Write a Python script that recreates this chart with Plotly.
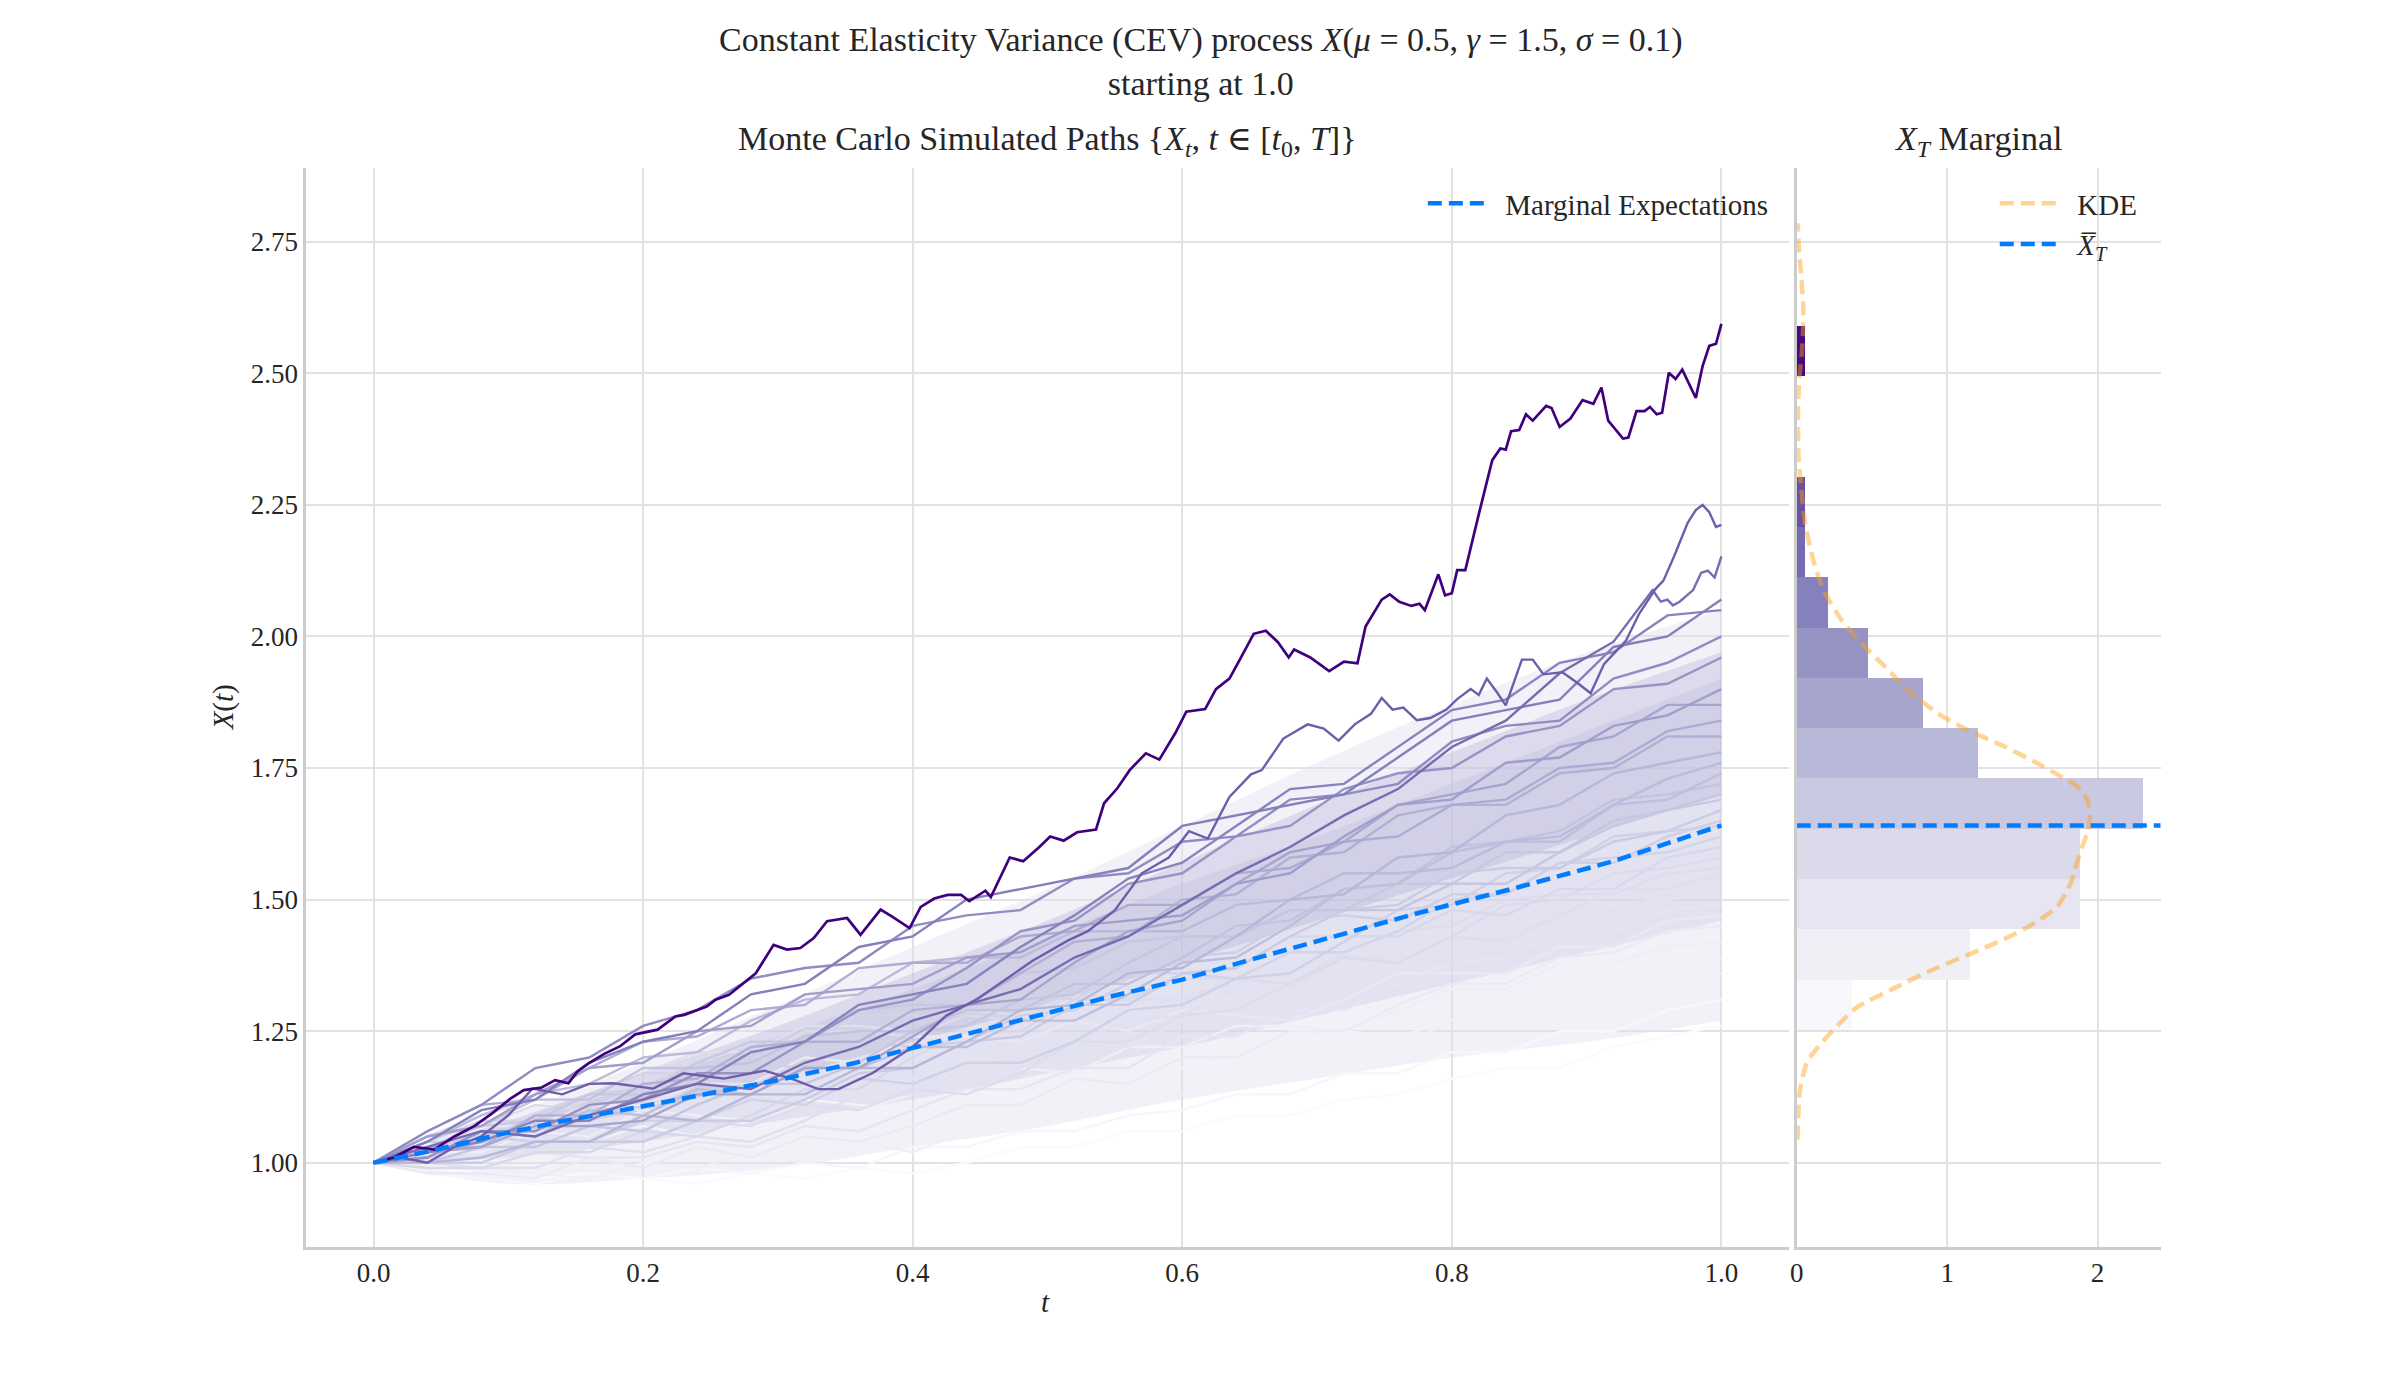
import plotly.graph_objects as go

# ---------------------------------------------------------------- data
# time grid of the sparse (hand-read) background paths
t_grid = [0.00, 0.04, 0.08, 0.12, 0.16, 0.20, 0.24, 0.28, 0.32, 0.36, 0.40, 0.44, 0.48,
          0.52, 0.56, 0.60, 0.64, 0.68, 0.72, 0.76, 0.80, 0.84, 0.88, 0.92, 0.96, 1.00]

bundle_paths = [
    [1.00, 1.04, 1.10, 1.12, 1.19, 1.23, 1.25, 1.32, 1.34, 1.41, 1.43, 1.50, 1.52, 1.54, 1.56, 1.64, 1.66, 1.68, 1.70, 1.77, 1.84, 1.86, 1.88, 1.98, 2.00, 2.07],
    [1.00, 1.02, 1.04, 1.08, 1.08, 1.13, 1.15, 1.21, 1.23, 1.30, 1.32, 1.34, 1.41, 1.47, 1.54, 1.57, 1.64, 1.71, 1.72, 1.79, 1.86, 1.88, 1.95, 1.97, 2.04, 2.05],
    [1.00, 1.06, 1.11, 1.18, 1.20, 1.26, 1.29, 1.35, 1.37, 1.38, 1.45, 1.47, 1.48, 1.54, 1.55, 1.61, 1.62, 1.69, 1.70, 1.72, 1.80, 1.83, 1.84, 1.92, 1.95, 2.00],
    [1.00, 1.01, 1.06, 1.06, 1.11, 1.12, 1.17, 1.17, 1.23, 1.29, 1.31, 1.37, 1.44, 1.46, 1.53, 1.55, 1.62, 1.64, 1.71, 1.74, 1.75, 1.81, 1.83, 1.90, 1.91, 1.96],
    [1.00, 1.05, 1.07, 1.13, 1.18, 1.19, 1.25, 1.26, 1.32, 1.33, 1.34, 1.39, 1.40, 1.45, 1.46, 1.47, 1.53, 1.55, 1.62, 1.68, 1.69, 1.76, 1.77, 1.83, 1.85, 1.90],
    [1.00, 1.02, 1.03, 1.07, 1.07, 1.08, 1.13, 1.13, 1.18, 1.18, 1.24, 1.30, 1.31, 1.38, 1.44, 1.46, 1.53, 1.59, 1.61, 1.68, 1.70, 1.72, 1.79, 1.81, 1.87, 1.87],
    [1.00, 1.06, 1.11, 1.12, 1.18, 1.23, 1.24, 1.29, 1.30, 1.37, 1.38, 1.38, 1.43, 1.44, 1.49, 1.49, 1.55, 1.56, 1.61, 1.62, 1.68, 1.69, 1.75, 1.76, 1.82, 1.84],
    [1.00, 1.03, 1.03, 1.09, 1.09, 1.15, 1.16, 1.22, 1.23, 1.23, 1.29, 1.30, 1.36, 1.42, 1.43, 1.50, 1.51, 1.58, 1.59, 1.66, 1.68, 1.68, 1.74, 1.75, 1.81, 1.81],
    [1.00, 1.00, 1.01, 1.04, 1.04, 1.09, 1.08, 1.13, 1.13, 1.18, 1.18, 1.23, 1.29, 1.30, 1.36, 1.37, 1.43, 1.50, 1.51, 1.58, 1.59, 1.66, 1.68, 1.74, 1.76, 1.78],
    [1.00, 1.04, 1.09, 1.13, 1.15, 1.20, 1.21, 1.27, 1.31, 1.32, 1.38, 1.39, 1.39, 1.44, 1.44, 1.44, 1.49, 1.50, 1.55, 1.55, 1.56, 1.61, 1.62, 1.68, 1.73, 1.76],
    [1.00, 1.01, 1.06, 1.05, 1.10, 1.09, 1.14, 1.13, 1.18, 1.18, 1.22, 1.22, 1.27, 1.27, 1.32, 1.38, 1.39, 1.45, 1.52, 1.53, 1.59, 1.61, 1.61, 1.68, 1.69, 1.74],
    [1.00, 1.05, 1.07, 1.12, 1.12, 1.18, 1.18, 1.19, 1.24, 1.25, 1.25, 1.29, 1.29, 1.34, 1.34, 1.39, 1.45, 1.46, 1.52, 1.53, 1.60, 1.61, 1.63, 1.69, 1.70, 1.72],
    [1.00, 1.00, 1.03, 1.03, 1.07, 1.06, 1.11, 1.15, 1.15, 1.19, 1.25, 1.26, 1.31, 1.32, 1.38, 1.43, 1.43, 1.48, 1.48, 1.48, 1.53, 1.53, 1.59, 1.65, 1.67, 1.70],
    [1.00, 1.03, 1.07, 1.08, 1.13, 1.13, 1.19, 1.23, 1.23, 1.29, 1.30, 1.30, 1.36, 1.37, 1.42, 1.43, 1.43, 1.48, 1.48, 1.53, 1.53, 1.59, 1.59, 1.64, 1.67, 1.69],
    [1.00, 1.00, 1.00, 1.04, 1.04, 1.04, 1.08, 1.08, 1.12, 1.17, 1.18, 1.23, 1.24, 1.30, 1.30, 1.36, 1.37, 1.43, 1.48, 1.49, 1.55, 1.56, 1.56, 1.61, 1.63, 1.67],
    [1.00, 1.04, 1.04, 1.09, 1.13, 1.14, 1.19, 1.19, 1.18, 1.23, 1.22, 1.23, 1.28, 1.29, 1.34, 1.39, 1.40, 1.46, 1.47, 1.46, 1.51, 1.51, 1.57, 1.57, 1.62, 1.65],
    [1.00, 1.01, 1.05, 1.04, 1.04, 1.08, 1.08, 1.12, 1.11, 1.16, 1.15, 1.19, 1.19, 1.23, 1.29, 1.30, 1.35, 1.36, 1.42, 1.48, 1.49, 1.55, 1.56, 1.62, 1.63, 1.64],
    [1.00, 1.04, 1.08, 1.08, 1.13, 1.17, 1.17, 1.22, 1.23, 1.28, 1.28, 1.28, 1.32, 1.31, 1.36, 1.36, 1.35, 1.40, 1.40, 1.44, 1.50, 1.51, 1.57, 1.58, 1.59, 1.62],
    [1.00, 0.99, 0.99, 1.02, 1.02, 1.06, 1.05, 1.09, 1.14, 1.14, 1.20, 1.25, 1.25, 1.31, 1.31, 1.36, 1.37, 1.43, 1.43, 1.43, 1.48, 1.47, 1.52, 1.52, 1.58, 1.60],
    [1.00, 1.03, 1.07, 1.11, 1.10, 1.15, 1.19, 1.19, 1.25, 1.25, 1.24, 1.28, 1.27, 1.32, 1.31, 1.35, 1.35, 1.34, 1.39, 1.38, 1.43, 1.49, 1.50, 1.55, 1.56, 1.58],
    [1.00, 1.01, 1.05, 1.04, 1.04, 1.04, 1.08, 1.07, 1.11, 1.10, 1.14, 1.13, 1.17, 1.23, 1.23, 1.28, 1.29, 1.34, 1.40, 1.44, 1.45, 1.50, 1.51, 1.51, 1.55, 1.56],
    [1.00, 1.05, 1.09, 1.12, 1.12, 1.17, 1.21, 1.21, 1.26, 1.26, 1.25, 1.29, 1.28, 1.32, 1.31, 1.31, 1.35, 1.34, 1.39, 1.38, 1.43, 1.42, 1.47, 1.52, 1.52, 1.55],
    [1.00, 1.00, 0.99, 0.99, 1.03, 1.02, 1.05, 1.04, 1.08, 1.13, 1.13, 1.18, 1.18, 1.23, 1.27, 1.28, 1.33, 1.33, 1.39, 1.39, 1.38, 1.43, 1.47, 1.48, 1.51, 1.53],
    [1.00, 1.03, 1.06, 1.06, 1.11, 1.10, 1.15, 1.15, 1.14, 1.18, 1.16, 1.20, 1.19, 1.23, 1.22, 1.27, 1.32, 1.32, 1.32, 1.37, 1.38, 1.43, 1.44, 1.49, 1.50, 1.51],
    [1.00, 1.00, 0.99, 1.02, 1.01, 1.01, 1.04, 1.03, 1.07, 1.06, 1.10, 1.14, 1.14, 1.18, 1.18, 1.24, 1.24, 1.29, 1.29, 1.34, 1.38, 1.39, 1.44, 1.44, 1.48, 1.49],
    [1.00, 1.04, 1.07, 1.07, 1.11, 1.11, 1.15, 1.15, 1.20, 1.19, 1.24, 1.24, 1.23, 1.27, 1.25, 1.29, 1.28, 1.27, 1.31, 1.36, 1.36, 1.36, 1.41, 1.41, 1.46, 1.47],
    [1.00, 0.98, 0.98, 0.97, 1.01, 0.99, 1.03, 1.01, 1.05, 1.04, 1.07, 1.11, 1.11, 1.16, 1.15, 1.20, 1.20, 1.25, 1.25, 1.30, 1.34, 1.34, 1.39, 1.40, 1.44, 1.45],
    [1.00, 1.02, 1.02, 1.06, 1.05, 1.10, 1.09, 1.08, 1.11, 1.10, 1.13, 1.18, 1.18, 1.17, 1.22, 1.22, 1.26, 1.26, 1.25, 1.29, 1.33, 1.33, 1.38, 1.38, 1.41, 1.42],
    [1.00, 0.99, 0.99, 0.98, 0.97, 1.00, 0.99, 1.02, 1.00, 1.04, 1.02, 1.06, 1.09, 1.09, 1.13, 1.13, 1.18, 1.17, 1.22, 1.22, 1.27, 1.30, 1.30, 1.35, 1.36, 1.39],
    [1.00, 1.02, 1.05, 1.04, 1.04, 1.07, 1.05, 1.08, 1.12, 1.11, 1.10, 1.14, 1.12, 1.16, 1.15, 1.18, 1.22, 1.22, 1.25, 1.24, 1.27, 1.27, 1.32, 1.32, 1.35, 1.36],
    [1.00, 0.98, 0.97, 0.96, 0.98, 0.97, 0.99, 0.98, 1.00, 0.99, 1.03, 1.03, 1.06, 1.06, 1.09, 1.10, 1.13, 1.13, 1.17, 1.17, 1.21, 1.21, 1.25, 1.25, 1.29, 1.31],
    [1.00, 0.99, 0.98, 0.97, 0.98, 0.97, 0.96, 0.98, 0.97, 0.99, 0.98, 1.00, 1.03, 1.03, 1.06, 1.06, 1.09, 1.09, 1.12, 1.13, 1.16, 1.18, 1.18, 1.22, 1.24, 1.26],
]

# the three outlying paths, read in more detail
top_t = [0, 0.015, 0.03, 0.045, 0.06, 0.075, 0.088, 0.1016, 0.1115, 0.1248, 0.1347, 0.1446, 0.1512,
         0.1595, 0.1711, 0.1827, 0.1942, 0.2042, 0.2108, 0.224, 0.2306, 0.2472, 0.2538, 0.2637, 0.2703,
         0.2836, 0.2968, 0.3067, 0.3167, 0.3266, 0.3365, 0.3514, 0.3613, 0.3762, 0.3845, 0.3977, 0.406,
         0.416, 0.426, 0.436, 0.442, 0.454, 0.458, 0.472, 0.482, 0.494, 0.502, 0.512, 0.522, 0.536, 0.542,
         0.552, 0.561, 0.573, 0.583, 0.595, 0.603, 0.617, 0.625, 0.635, 0.641, 0.653, 0.662, 0.671, 0.679,
         0.683, 0.695, 0.703, 0.709, 0.720, 0.730, 0.736, 0.748, 0.754, 0.761, 0.770, 0.776, 0.780, 0.790,
         0.795, 0.800, 0.804, 0.810, 0.820, 0.830, 0.836, 0.840, 0.844, 0.850, 0.855, 0.860, 0.870, 0.874,
         0.880, 0.888, 0.897, 0.905, 0.911, 0.916, 0.927, 0.931, 0.937, 0.943, 0.947, 0.952, 0.956, 0.961,
         0.966, 0.971, 0.981, 0.986, 0.991, 0.996, 1.0]
top_x = [1.0, 1.01, 1.03, 1.025, 1.05, 1.07, 1.094, 1.122, 1.138, 1.143, 1.157, 1.151, 1.173,
         1.189, 1.207, 1.221, 1.244, 1.249, 1.253, 1.278, 1.281, 1.297, 1.31, 1.319, 1.332,
         1.36, 1.414, 1.405, 1.408, 1.427, 1.459, 1.465, 1.433, 1.481, 1.468, 1.446, 1.486,
         1.502, 1.509, 1.509, 1.497, 1.517, 1.505, 1.58, 1.573, 1.60, 1.62, 1.612, 1.628, 1.633, 1.683,
         1.712, 1.746, 1.778, 1.766, 1.817, 1.857, 1.862, 1.90, 1.92, 1.948, 2.005, 2.011, 1.989, 1.96,
         1.975, 1.96, 1.946, 1.934, 1.952, 1.949, 2.019, 2.07, 2.08, 2.066, 2.058, 2.062, 2.05, 2.118,
         2.078, 2.082, 2.126, 2.126, 2.232, 2.335, 2.357, 2.355, 2.39, 2.392, 2.422, 2.41, 2.438, 2.434,
         2.398, 2.414, 2.449, 2.442, 2.473, 2.41, 2.376, 2.378, 2.428, 2.428, 2.436, 2.422, 2.425, 2.501,
         2.489, 2.507, 2.453, 2.513, 2.552, 2.556, 2.594]

second_t = [0, 0.02, 0.04, 0.06, 0.08, 0.10, 0.118, 0.14, 0.16, 0.178, 0.2075, 0.23, 0.26, 0.29, 0.31,
            0.33, 0.345, 0.37, 0.40, 0.425, 0.448, 0.47, 0.489, 0.515, 0.53, 0.55, 0.57, 0.59, 0.605,
            0.619, 0.635, 0.651, 0.659, 0.675, 0.693, 0.705, 0.716, 0.728, 0.740, 0.748, 0.756, 0.764,
            0.774, 0.784, 0.796, 0.804, 0.814, 0.820, 0.826, 0.834, 0.840, 0.852, 0.860, 0.868, 0.882,
            0.893, 0.903, 0.913, 0.929, 0.939, 0.951, 0.957, 0.965, 0.975, 0.981, 0.986, 0.991, 0.996, 1.0]
second_x = [1.0, 1.01, 1.0, 1.03, 1.05, 1.09, 1.141, 1.13, 1.15, 1.151, 1.141, 1.17, 1.16, 1.175, 1.16,
            1.14, 1.14, 1.17, 1.22, 1.28, 1.311, 1.35, 1.384, 1.422, 1.44, 1.48, 1.55, 1.58, 1.63,
            1.616, 1.695, 1.738, 1.746, 1.806, 1.833, 1.825, 1.802, 1.833, 1.853, 1.883, 1.861, 1.865,
            1.841, 1.845, 1.861, 1.881, 1.90, 1.889, 1.92, 1.892, 1.869, 1.956, 1.956, 1.928, 1.932,
            1.912, 1.892, 1.948, 1.991, 2.043, 2.09, 2.106, 2.153, 2.216, 2.24, 2.25, 2.236, 2.208, 2.212]

third_t = [0.00, 0.04, 0.08, 0.12, 0.16, 0.20, 0.24, 0.28, 0.32, 0.36, 0.40, 0.44, 0.48, 0.52, 0.56,
           0.60, 0.64, 0.68, 0.72, 0.76, 0.80, 0.84, 0.88, 0.92, 0.949, 0.955, 0.96, 0.964, 0.969,
           0.979, 0.985, 0.99, 0.995, 1.0]
third_x = [1.00, 1.03, 1.06, 1.05, 1.09, 1.12, 1.15, 1.14, 1.19, 1.22, 1.27, 1.30, 1.33, 1.39, 1.43,
           1.49, 1.55, 1.60, 1.66, 1.71, 1.79, 1.84, 1.93, 1.99, 2.088, 2.066, 2.07, 2.059, 2.066,
           2.088, 2.121, 2.125, 2.112, 2.152]

# envelope of the dense, faint bulk of the simulated paths
band_t = [0.0, 0.1, 0.2, 0.3, 0.4, 0.5, 0.6, 0.7, 0.8, 0.9, 1.0]
outer_lo = [1.0, 0.96, 0.97, 0.99, 1.03, 1.07, 1.12, 1.16, 1.20, 1.23, 1.27]
outer_hi = [1.0, 1.09, 1.19, 1.30, 1.41, 1.52, 1.64, 1.76, 1.87, 1.97, 2.05]
inner_lo = [1.0, 1.01, 1.04, 1.08, 1.12, 1.17, 1.22, 1.28, 1.34, 1.40, 1.46]
inner_hi = [1.0, 1.07, 1.15, 1.24, 1.33, 1.43, 1.53, 1.62, 1.72, 1.82, 1.92]
core_t = [0.0, 0.1, 0.2, 0.3, 0.4, 0.5, 0.6, 0.7, 0.8, 0.9, 1.0]
core_lo = [1.0, 1.05, 1.10, 1.16, 1.23, 1.30, 1.38, 1.46, 1.54, 1.62, 1.70]
core_hi = [1.0, 1.08, 1.17, 1.26, 1.36, 1.46, 1.57, 1.68, 1.78, 1.88, 1.97]

# marginal expectations (sample mean over paths)
mean_t = [0, 0.045, 0.092, 0.138, 0.191, 0.244, 0.300, 0.356, 0.40, 0.449, 0.495, 0.547, 0.60,
          0.647, 0.72, 0.77, 0.85, 0.92, 1.0]
mean_x = [1.0, 1.024, 1.053, 1.078, 1.103, 1.13, 1.157, 1.189, 1.218, 1.249, 1.281, 1.316, 1.348,
          1.383, 1.436, 1.471, 1.524, 1.573, 1.641]

# histogram of X_T (200 paths)
bin_edges = [1.2526, 1.3482, 1.4437, 1.5393, 1.6348, 1.7304, 1.8259, 1.9215, 2.0170, 2.1126,
             2.2081, 2.3037, 2.3992, 2.4948, 2.5903]
bin_counts = [7, 22, 36, 36, 44, 23, 16, 9, 4, 1, 1, 0, 0, 1]
n_paths = 200
xT_mean = 1.641

# KDE of X_T
kde_x = [1.044, 1.10, 1.139, 1.17, 1.189, 1.205, 1.221, 1.249, 1.275, 1.297, 1.329, 1.363, 1.395,
         1.425, 1.455, 1.487, 1.531, 1.582, 1.601, 1.63, 1.658, 1.69, 1.715, 1.734, 1.759, 1.794,
         1.822, 1.854, 1.898, 1.943, 1.987, 2.031, 2.088, 2.145, 2.215, 2.272, 2.342, 2.40, 2.45,
         2.50, 2.544, 2.582, 2.623, 2.683, 2.734, 2.785]
kde_d = [0.005, 0.012, 0.022, 0.045, 0.066, 0.10, 0.144, 0.232, 0.32, 0.408, 0.629, 0.872, 1.137,
         1.38, 1.578, 1.733, 1.821, 1.876, 1.899, 1.935, 1.949, 1.931, 1.865, 1.755, 1.60, 1.358,
         1.137, 0.938, 0.74, 0.585, 0.43, 0.298, 0.177, 0.11, 0.055, 0.033, 0.012, 0.008, 0.01,
         0.02, 0.035, 0.042, 0.044, 0.03, 0.015, 0.006]

# ---------------------------------------------------------------- styling helpers
PURPLES = ["#fcfbfd", "#efedf5", "#dadaeb", "#bcbddc", "#9e9ac8",
           "#807dba", "#6a51a3", "#54278f", "#3f007d"]


def _rgb(h):
    return tuple(int(h[i:i + 2], 16) for i in (1, 3, 5))


def purples(u):
    u = min(max(u, 0.0), 1.0)
    pos = u * (len(PURPLES) - 1)
    i = min(int(pos), len(PURPLES) - 2)
    f = pos - i
    a, b = _rgb(PURPLES[i]), _rgb(PURPLES[i + 1])
    return "rgb(%d,%d,%d)" % tuple(round(a[k] + (b[k] - a[k]) * f) for k in range(3))


v_min, v_max = bin_edges[0], bin_edges[-1]


def norm(v):
    return (v - v_min) / (v_max - v_min)


W, H = 2400, 1400
FONT = "Liberation Serif, DejaVu Serif, serif"
TXT = "#262626"
GRID = "#e2e2e2"
SPINE = "#cccccc"
BLUE = "rgb(0,125,255)"
KDE_COL = "rgba(255,160,20,0.45)"
GAP = "\u00a0\u00a0"

fig = go.Figure()


def band(tt, lo, hi, color):
    fig.add_trace(go.Scatter(x=tt, y=lo, mode="lines", line=dict(width=0, shape="spline"),
                             showlegend=False, hoverinfo="skip", xaxis="x", yaxis="y"))
    fig.add_trace(go.Scatter(x=tt, y=hi, mode="lines", line=dict(width=0, shape="spline"),
                             fill="tonexty", fillcolor=color,
                             showlegend=False, hoverinfo="skip", xaxis="x", yaxis="y"))


# bulk envelope (faint lavender cloud)
band(band_t, outer_lo, outer_hi, "rgba(226,225,240,0.45)")
band(band_t, inner_lo, inner_hi, "rgba(205,204,229,0.40)")
band(core_t, core_lo, core_hi, "rgba(170,166,210,0.30)")

# background paths, lightest first
paths = [(t_grid, p) for p in bundle_paths]
paths += [(third_t, third_x), (second_t, second_x), (top_t, top_x)]
paths.sort(key=lambda tp: tp[1][-1])
for tt, xx in paths:
    lw = 2.7 if xx is top_x else 2.4
    fig.add_trace(go.Scatter(x=tt, y=xx, mode="lines",
                             line=dict(color=purples(norm(xx[-1])), width=lw),
                             showlegend=False, hoverinfo="skip", xaxis="x", yaxis="y"))

# marginal expectations
fig.add_trace(go.Scatter(x=mean_t, y=mean_x, mode="lines", name=GAP + "Marginal Expectations",
                         line=dict(color=BLUE, width=4.5, dash="14px,7px"),
                         legend="legend", xaxis="x", yaxis="y"))

# histogram of X_T (density)
bin_w = [bin_edges[i + 1] - bin_edges[i] for i in range(len(bin_counts))]
centers = [(bin_edges[i] + bin_edges[i + 1]) / 2 for i in range(len(bin_counts))]
dens = [c / (n_paths * w) for c, w in zip(bin_counts, bin_w)]
fig.add_trace(go.Bar(y=centers, x=dens, width=bin_w, orientation="h",
                     marker=dict(color=[purples(norm(c)) for c in centers], line=dict(width=0)),
                     showlegend=False, hoverinfo="skip", xaxis="x2", yaxis="y2"))

# KDE
fig.add_trace(go.Scatter(x=kde_d, y=kde_x, mode="lines", name=GAP + "KDE",
                         line=dict(color=KDE_COL, width=4.5, dash="14px,7px", shape="spline",
                                   smoothing=0.6),
                         legend="legend2", xaxis="x2", yaxis="y2"))

# mean of X_T
fig.add_trace(go.Scatter(x=[0, 2.42], y=[xT_mean, xT_mean], mode="lines",
                         name=GAP + "<i>X\u0305</i><sub><i>T</i></sub>",
                         line=dict(color=BLUE, width=4.5, dash="14px,7px"),
                         legend="legend2", xaxis="x2", yaxis="y2"))

# ---------------------------------------------------------------- layout
x1 = [300 / W, 1787 / W]
x2 = [1795 / W, 2160 / W]
yd = [1 - 1247 / H, 1 - 168 / H]

axis_common = dict(showgrid=True, gridcolor=GRID, gridwidth=1.5, zeroline=False,
                   showline=True, linecolor=SPINE, linewidth=2.5, ticks="",
                   tickfont=dict(family=FONT, size=27, color=TXT))

xticks = [0.0, 0.2, 0.4, 0.6, 0.8, 1.0]
yticks = [1.00, 1.25, 1.50, 1.75, 2.00, 2.25, 2.50, 2.75]

legend_font = dict(family=FONT, size=29, color=TXT)

fig.update_layout(
    width=W, height=H,
    margin=dict(l=0, r=0, t=0, b=0),
    paper_bgcolor="white", plot_bgcolor="white",
    font=dict(family=FONT, color=TXT),
    xaxis=dict(domain=x1, range=[-0.05, 1.05], anchor="y",
               tickvals=xticks, ticktext=["%.1f" % v for v in xticks], **axis_common),
    yaxis=dict(domain=yd, range=[0.84, 2.89], anchor="x",
               tickvals=yticks, ticktext=["%.2f" % v for v in yticks], **axis_common),
    xaxis2=dict(domain=x2, range=[0, 2.42], anchor="y2",
                tickvals=[0, 1, 2], ticktext=["0", "1", "2"], **axis_common),
    yaxis2=dict(domain=yd, matches="y", anchor="x2", showticklabels=False,
                tickvals=yticks, **{k: v for k, v in axis_common.items() if k != "tickfont"}),
    bargap=0,
    legend=dict(x=1772 / W, y=1 - 178 / H, xanchor="right", yanchor="top", itemwidth=58,
                bgcolor="rgba(0,0,0,0)", font=legend_font),
    legend2=dict(x=2142 / W, y=1 - 178 / H, xanchor="right", yanchor="top", itemwidth=58,
                 bgcolor="rgba(0,0,0,0)", font=legend_font, tracegroupgap=0),
    annotations=[
        dict(text="Constant Elasticity Variance (CEV) process <i>X</i>(<i>\u03bc</i> = 0.5, "
                  "<i>\u03b3</i> = 1.5, <i>\u03c3</i> = 0.1)<br>starting at 1.0",
             x=1197 / W, y=1 - 62 / H, xref="paper", yref="paper", showarrow=False,
             xanchor="center", yanchor="middle", font=dict(family=FONT, size=34, color=TXT)),
        dict(text="Monte Carlo Simulated Paths {<i>X<sub>t</sub></i>, <i>t</i> \u2208 "
                  "[<i>t</i><sub>0</sub>, <i>T</i>]}",
             x=(x1[0] + x1[1]) / 2, y=1 - 141 / H, xref="paper", yref="paper", showarrow=False,
             xanchor="center", yanchor="middle", font=dict(family=FONT, size=34, color=TXT)),
        dict(text="<i>X<sub>T</sub></i> Marginal",
             x=(x2[0] + x2[1]) / 2, y=1 - 141 / H, xref="paper", yref="paper", showarrow=False,
             xanchor="center", yanchor="middle", font=dict(family=FONT, size=34, color=TXT)),
        dict(text="<i>X</i>(<i>t</i>)", x=217 / W, y=1 - 707 / H, xref="paper", yref="paper",
             showarrow=False, textangle=-90, xanchor="center", yanchor="middle",
             font=dict(family=FONT, size=29, color=TXT)),
        dict(text="<i>t</i>", x=1042 / W, y=1 - 1302 / H, xref="paper", yref="paper",
             showarrow=False, xanchor="center", yanchor="middle",
             font=dict(family=FONT, size=29, color=TXT)),
    ],
)

fig.write_html("out.html", config={"displayModeBar": False})
